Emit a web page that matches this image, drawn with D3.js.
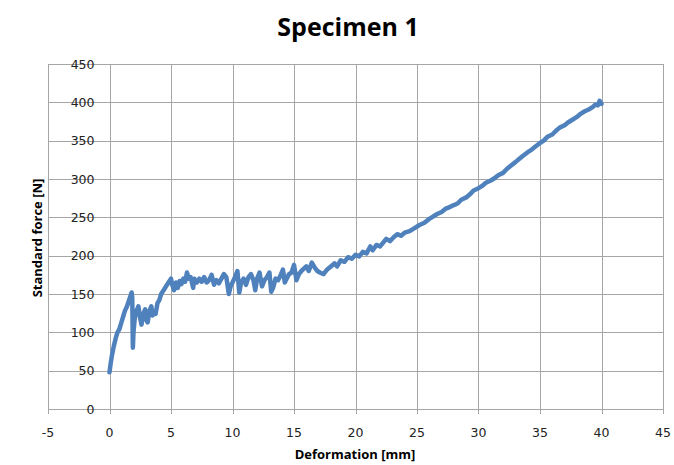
<!DOCTYPE html>
<html><head><meta charset="utf-8">
<script src="https://cdn.jsdelivr.net/npm/d3@7"></script>
<style>body{margin:0;background:#fff;} svg{display:block;}</style>
</head><body>
<svg id="chart" width="674" height="465"></svg>
<script>
const deformation = [0,0.1,0.2,0.35,0.5,0.65,0.8,0.95,1.1,1.25,1.4,1.55,1.7,1.8,1.85,1.9,1.95,2.05,2.2,2.35,2.5,2.6,2.75,2.9,3.0,3.1,3.25,3.4,3.5,3.6,3.75,3.9,4.05,4.2,4.4,4.6,4.8,5.0,5.1,5.25,5.4,5.55,5.7,5.85,6.0,6.15,6.3,6.45,6.6,6.8,6.9,7.1,7.3,7.5,7.7,7.9,8.1,8.3,8.5,8.7,8.9,9.1,9.3,9.5,9.7,9.85,10.0,10.2,10.4,10.55,10.7,10.9,11.1,11.3,11.5,11.7,11.85,12.0,12.2,12.4,12.6,12.8,13.0,13.15,13.3,13.5,13.7,13.9,14.1,14.25,14.4,14.6,14.8,15.0,15.2,15.4,15.6,15.8,16.0,16.2,16.45,16.7,16.9,17.1,17.4,17.7,18.0,18.3,18.5,18.8,19.1,19.4,19.7,20.0,20.3,20.6,20.9,21.2,21.4,21.7,22.0,22.3,22.5,22.8,23.1,23.4,23.7,24.0,24.4,24.8,25.2,25.6,26.0,26.3,26.6,27.0,27.3,27.6,28.0,28.3,28.6,29.0,29.3,29.6,30.0,30.3,30.6,31.0,31.3,31.6,32.0,32.3,32.6,33.0,33.3,33.6,34.0,34.3,34.6,35.0,35.3,35.6,36.0,36.3,36.6,37.0,37.3,37.6,38.0,38.3,38.6,39.0,39.3,39.5,39.7,39.85,40.0];
const force = [48,60,70,82,92,100,104,112,120,128,133,140,147,152,145,80,100,118,128,134,118,110,124,130,116,113,128,134,122,126,124,138,142,150,155,160,165,170,162,155,165,158,167,163,170,166,178,170,172,158,170,165,170,166,172,165,168,175,162,168,164,170,176,172,150,160,165,172,180,152,165,170,162,172,176,168,155,170,178,160,168,172,178,153,158,170,168,174,182,165,170,176,178,188,168,176,180,183,186,180,191,184,180,178,176,182,186,190,186,194,192,198,196,201,199,205,203,212,207,214,212,218,222,219,224,228,226,230,232,236,240,243,248,251,254,257,261,263,266,268,273,276,280,285,288,291,295,298,301,305,308,313,317,322,326,330,335,338,342,347,350,355,358,363,367,370,374,377,381,385,388,391,394,397,396,402,398,400];
const xTicks = [-5,0,5,10,15,20,25,30,35,40,45];
const yTicks = [0,50,100,150,200,250,300,350,400,450];
const titleText = "Specimen 1";
const xLabel = "Deformation [mm]";
const yLabel = "Standard force [N]";

const svg = d3.select("#chart");
const x = d3.scaleLinear().domain([-5,45]).range([48,663]);
const y = d3.scaleLinear().domain([0,450]).range([409,64]);
const grid = "#a6a6a6";

svg.append("g").selectAll("line").data(yTicks).join("line")
  .attr("x1", x(-5)).attr("x2", x(45))
  .attr("y1", d=>Math.round(y(d))+0.5).attr("y2", d=>Math.round(y(d))+0.5)
  .attr("stroke", grid).attr("stroke-width",1);
svg.append("g").selectAll("line").data(xTicks).join("line")
  .attr("x1", d=>Math.round(x(d))+0.5).attr("x2", d=>Math.round(x(d))+0.5)
  .attr("y1", y(450)).attr("y2", y(0)+5)
  .attr("stroke", grid).attr("stroke-width",1);

svg.append("g").selectAll("text").data(yTicks).join("text")
  .attr("x", x(0)-15).attr("y", d=>y(d))
  .attr("dy","0.36em").attr("text-anchor","end")
  .attr("font-family","DejaVu Sans, Verdana, sans-serif").attr("font-size",12.5)
  .attr("fill","#222").text(d=>d);
svg.append("g").selectAll("text").data(xTicks).join("text")
  .attr("x", d=>x(d)).attr("y", 432)
  .attr("dy","0.36em").attr("text-anchor","middle")
  .attr("font-family","DejaVu Sans, Verdana, sans-serif").attr("font-size",12.5)
  .attr("fill","#222").text(d=>d);

const pts = deformation.map((d,i)=>[d, force[i]]);
svg.append("path").datum(pts)
  .attr("fill","none").attr("stroke","#4F81BD").attr("stroke-width",4.5)
  .attr("stroke-linejoin","round").attr("stroke-linecap","round")
  .attr("d", d3.line().x(d=>x(d[0])).y(d=>y(d[1])));

svg.append("text").attr("x",348).attr("y",36).attr("text-anchor","middle")
  .attr("font-family","Open Sans, sans-serif").attr("font-weight","bold").attr("font-size",25)
  .attr("fill","#000").text(titleText);
svg.append("text").attr("x",355).attr("y",454).attr("dy","0.36em").attr("text-anchor","middle")
  .attr("font-family","Open Sans, sans-serif").attr("font-weight","bold").attr("font-size",13)
  .attr("fill","#000").text(xLabel);
svg.append("text").attr("transform","translate(37,238) rotate(-90)").attr("dy","0.36em").attr("text-anchor","middle")
  .attr("font-family","Open Sans, sans-serif").attr("font-weight","bold").attr("font-size",13)
  .attr("fill","#000").text(yLabel);
</script>
</body></html>
